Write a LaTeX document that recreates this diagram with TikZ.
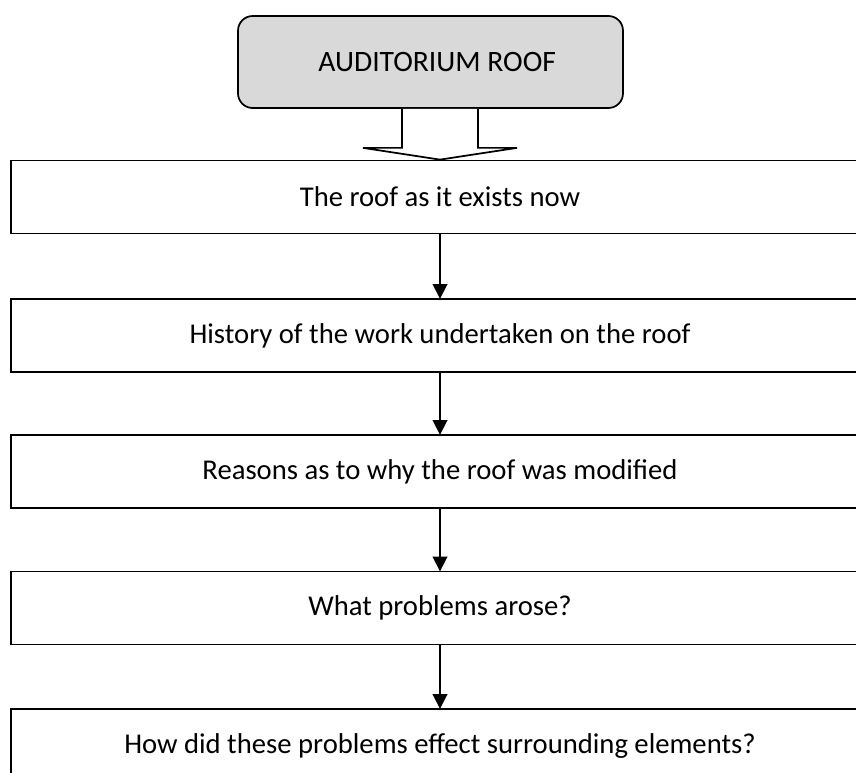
\documentclass[tikz,border=0pt]{standalone}
\usepackage{fontspec}
\setmainfont{Carlito}
\usetikzlibrary{arrows.meta,calc}

\begin{document}
\begin{tikzpicture}[x=0.75pt,y=-0.75pt,
  every node/.style={font=\fontsize{21.5pt}{24pt}\selectfont, text=black},
  line/.style={line width=1.3pt, draw=black},
  titlebox/.style={line, rounded corners=11pt, fill=black!15,
    minimum width=288.75pt, minimum height=69pt, inner sep=0pt,
    font=\fontsize{22.2pt}{24pt}\selectfont},
  stepbox/.style={line, fill=white, minimum width=643.5pt,
    minimum height=54.75pt, inner sep=0pt},
  flow/.style={line, -{Triangle[length=11pt,width=11pt]}, shorten >=-0.5pt}]

  % page area; the step boxes run past the right edge
  \path[use as bounding box] (0,0) rectangle (856,772);
  \clip (0,0) rectangle (856,772);

  \node[titlebox] (top) at (430.5,62) {\hspace*{10pt}AUDITORIUM ROOF};

  \node[stepbox] (b1) at (440,197)    {The roof as it exists now};
  \node[stepbox] (b2) at (440,335.5)  {History of the work undertaken on the roof};
  \node[stepbox] (b3) at (440,471.5)  {Reasons as to why the roof was modified};
  \node[stepbox] (b4) at (440,608)    {What problems arose?};
  \node[stepbox] (b5) at (440,745.5)  {How did these problems effect surrounding elements?};

  % hollow block arrow from the title to the first step
  \coordinate (tip) at (b1.north -| 440,0);
  \draw[line, fill=white, line join=miter]
    ($(top.south -| 402,0)$) -- ($(top.south -| 402,0)+(0,39)$)
    -- ++(-39,0) -- (tip) -- ($(top.south -| 478,0)+(0,39)+(39,0)$)
    -- ($(top.south -| 478,0)+(0,39)$) -- (top.south -| 478,0);

  \draw[flow] (b1.south -| 440,0) -- (b2.north -| 440,0);
  \draw[flow] (b2.south -| 440,0) -- (b3.north -| 440,0);
  \draw[flow] (b3.south -| 440,0) -- (b4.north -| 440,0);
  \draw[flow] (b4.south -| 440,0) -- (b5.north -| 440,0);
\end{tikzpicture}
\end{document}
